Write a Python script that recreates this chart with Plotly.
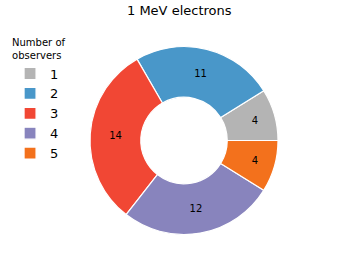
import plotly.graph_objects as go

categories = ["1", "2", "3", "4", "5"]
values = [4, 11, 14, 12, 4]
colors = ["#b4b4b4", "#4997c9", "#f14734", "#8884bd", "#f3711c"]
title_text = "1 MeV electrons"

fig = go.Figure(go.Pie(
    labels=categories,
    values=values,
    sort=False,
    direction="counterclockwise",
    rotation=58,
    hole=0.46,
    marker=dict(colors=colors, line=dict(color="white", width=1.2)),
    textinfo="value",
    textposition="inside",
    insidetextorientation="horizontal",
    insidetextfont=dict(size=10, color="black"),
    domain=dict(x=[0.2507, 0.7744], y=[0.1577, 0.835]),
))

fig.update_layout(
    width=359, height=279,
    margin=dict(l=0, r=0, t=0, b=0),
    paper_bgcolor="white",
    plot_bgcolor="white",
    font=dict(family="DejaVu Sans", color="black"),
    annotations=[dict(text=title_text, x=0.5, xref="paper", xanchor="center",
                      y=0.9606, yref="paper", yanchor="middle", showarrow=False,
                      font=dict(size=13))],
    legend=dict(
        title=dict(text="Number of<br>observers", font=dict(size=10), side="top"),
        font=dict(size=13),
        x=0.028, xanchor="left", y=0.8833, yanchor="top",
        bgcolor="rgba(0,0,0,0)",
        traceorder="normal",
    ),
)

fig.write_html("out.html", config={"displayModeBar": False},
               post_script="document.body.style.margin='0';")
